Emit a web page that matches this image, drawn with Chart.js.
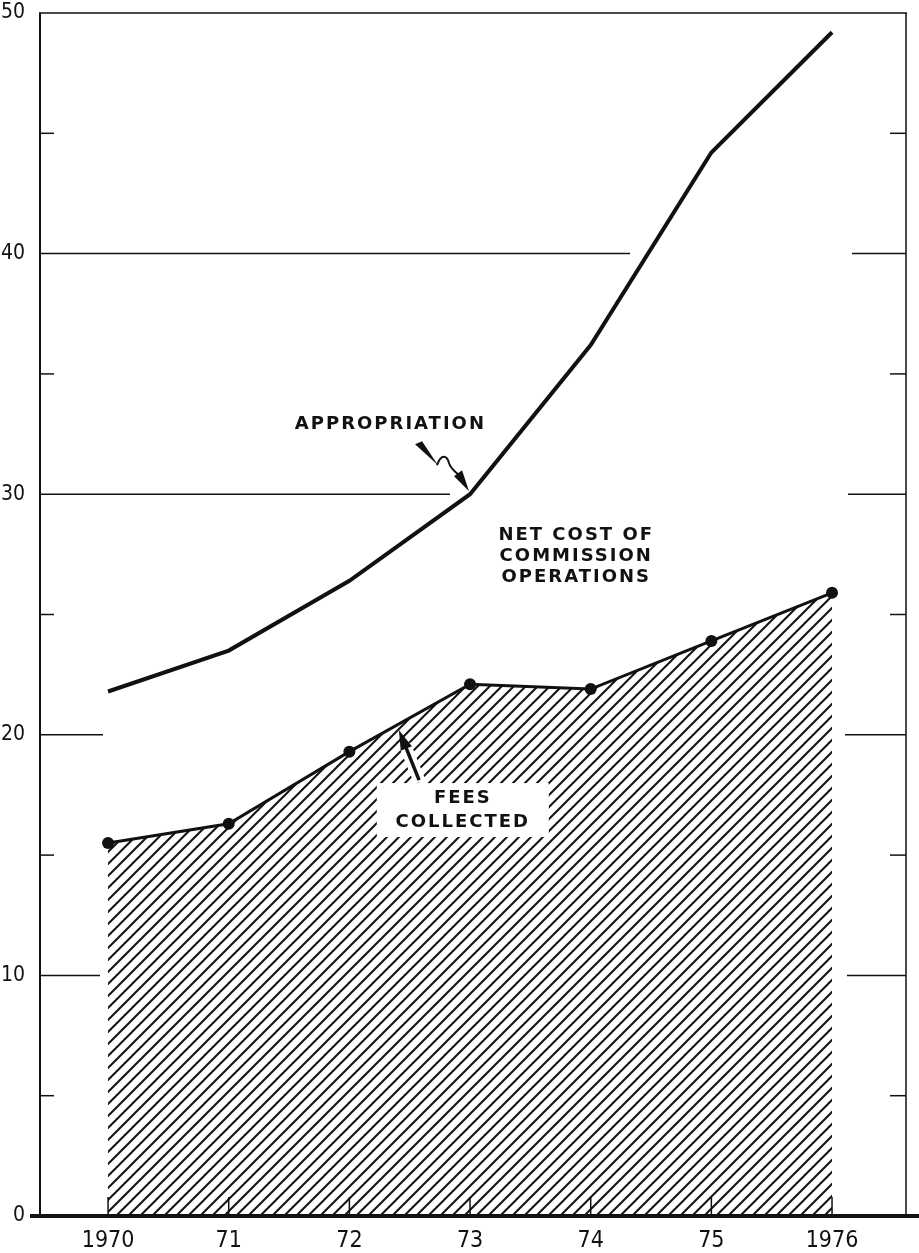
<!DOCTYPE html>
<html>
<head>
<meta charset="utf-8">
<script src="https://cdn.jsdelivr.net/npm/chart.js@4/dist/chart.umd.min.js"></script>
<style>
  html, body { margin: 0; padding: 0; background: #fff; }
</style>
</head>
<body>
<canvas id="chart" width="919" height="1253"></canvas>
<script>
// data (millions of dollars)
const years = [1970, 1971, 1972, 1973, 1974, 1975, 1976];
const yearLabels = ['1970', '71', '72', '73', '74', '75', '1976'];
const appropriation = [21.8, 23.5, 26.4, 30.0, 36.2, 44.2, 49.2];
const feesCollected = [15.5, 16.3, 19.3, 22.1, 21.9, 23.9, 25.9];
const yMajor = [10, 20, 30, 40, 50];
const yMinor = [5, 15, 25, 35, 45];

const INK = '#111';
const NARROW = '"DejaVu Sans Condensed", "Liberation Sans Narrow", sans-serif';
const LABEL_FONT = 'bold 18px "DejaVu Sans", sans-serif';

// diagonal hatch for the fees area
function hatchPattern() {
    const p = document.createElement('canvas');
    p.width = 12;
    p.height = 12;
    const g = p.getContext('2d');
    g.strokeStyle = INK;
    g.lineWidth = 2;
    g.beginPath();
    g.moveTo(-3, 15); g.lineTo(15, -3);
    g.moveTo(-3, 3); g.lineTo(3, -3);
    g.moveTo(9, 15); g.lineTo(15, 9);
    g.stroke();
    return g.createPattern(p, 'repeat');
}

function line(ctx, x1, y1, x2, y2, w) {
    ctx.lineWidth = w;
    ctx.beginPath();
    ctx.moveTo(x1, y1);
    ctx.lineTo(x2, y2);
    ctx.stroke();
}

// frame, partial grid lines and tick marks
const framePlugin = {
    id: 'frame',
    beforeDatasetsDraw(chart) {
        const { ctx, chartArea: a, scales } = chart;
        const y = scales.y, x = scales.x;
        ctx.save();
        ctx.strokeStyle = INK;
        ctx.lineCap = 'butt';
        // left / top / right border
        line(ctx, a.left, a.top, a.left, a.bottom, 2);
        line(ctx, a.left - 1, a.top, a.right + 1, a.top, 1.5);
        line(ctx, a.right, a.top, a.right, a.bottom, 1.5);
        // left ends of grid lines (interrupted by the graph)
        const leftLen = { 10: 60, 20: 63, 30: 410, 40: 590 };
        const rightLen = { 10: 59, 20: 61, 30: 58, 40: 54 };
        yMajor.forEach(v => {
            const py = y.getPixelForValue(v);
            if (leftLen[v]) line(ctx, a.left, py, a.left + leftLen[v], py, 1.5);
            if (rightLen[v]) line(ctx, a.right - rightLen[v], py, a.right, py, 1.5);
        });
        yMinor.forEach(v => {
            const py = y.getPixelForValue(v);
            line(ctx, a.left, py, a.left + 14, py, 1.5);
            line(ctx, a.right - 16, py, a.right, py, 1.5);
        });
        // year ticks
        years.forEach(v => {
            const px = x.getPixelForValue(v);
            line(ctx, px, a.bottom - 19, px, a.bottom, 1.5);
        });
        ctx.restore();
    },
    afterDatasetsDraw(chart) {
        const { ctx, chartArea: a } = chart;
        ctx.save();
        ctx.strokeStyle = INK;
        // heavy baseline running past the frame
        line(ctx, a.left - 10, a.bottom, 919, a.bottom, 4);
        ctx.restore();
    }
};

// text labels and arrows
const notesPlugin = {
    id: 'notes',
    afterDatasetsDraw(chart) {
        const { ctx, scales } = chart;
        const X = v => scales.x.getPixelForValue(v);
        const Y = v => scales.y.getPixelForValue(v);
        ctx.save();
        ctx.fillStyle = INK;
        ctx.strokeStyle = INK;
        ctx.font = LABEL_FONT;
        ctx.letterSpacing = '2px';
        ctx.textAlign = 'center';
        ctx.textBaseline = 'middle';

        ctx.fillText('APPROPRIATION', X(1972.34), Y(32.9));

        ctx.fillText('NET COST OF', X(1973.88), Y(28.3));
        ctx.fillText('COMMISSION', X(1973.88), Y(27.43));
        ctx.fillText('OPERATIONS', X(1973.88), Y(26.56));

        // squiggle arrow to the appropriation line
        const tx = X(1973) - 1, ty = Y(30) - 3;
        ctx.beginPath();
        ctx.moveTo(tx - 54, ty - 47);
        ctx.lineTo(tx - 47, ty - 50);
        ctx.lineTo(tx - 31, ty - 26);
        ctx.closePath();
        ctx.fill();
        ctx.lineWidth = 2;
        ctx.beginPath();
        ctx.moveTo(tx - 32, ty - 26);
        ctx.bezierCurveTo(tx - 28, ty - 38, tx - 22, ty - 36, tx - 20, ty - 28);
        ctx.bezierCurveTo(tx - 18, ty - 22, tx - 14, ty - 20, tx - 10, ty - 16);
        ctx.stroke();
        ctx.beginPath();
        ctx.moveTo(tx, ty);
        ctx.lineTo(tx - 15, ty - 15);
        ctx.lineTo(tx - 7, ty - 21);
        ctx.closePath();
        ctx.fill();

        // white patch for the fees label
        const fx = X(1972.94);
        const fy1 = Y(17.37), fy2 = Y(16.38);
        ctx.fillStyle = '#fff';
        ctx.fillRect(fx - 86, fy1 - 15, 172, 54);

        // arrow to the fees line
        const hx = X(1972.41), hy = Y(20.2);
        const bx = hx + 21, by = hy + 52;
        const len = Math.hypot(bx - hx, by - hy);
        const ux = (bx - hx) / len, uy = (by - hy) / len;
        ctx.strokeStyle = '#fff';
        line(ctx, hx + ux * 16, hy + uy * 16, bx, by, 12);
        ctx.strokeStyle = INK;
        line(ctx, hx + ux * 14, hy + uy * 14, bx - ux * 2, by - uy * 2, 3.5);
        ctx.fillStyle = INK;
        ctx.beginPath();
        ctx.moveTo(hx, hy);
        ctx.lineTo(hx + ux * 20 - uy * 6, hy + uy * 20 + ux * 6);
        ctx.lineTo(hx + ux * 20 + uy * 6, hy + uy * 20 - ux * 6);
        ctx.closePath();
        ctx.fill();

        ctx.fillText('FEES', fx, fy1);
        ctx.fillText('COLLECTED', fx, fy2);
        ctx.restore();
    }
};

new Chart(document.getElementById('chart'), {
    type: 'line',
    data: {
        datasets: [
            {
                label: 'Appropriation',
                data: years.map((yr, i) => ({ x: yr, y: appropriation[i] })),
                borderColor: INK,
                borderWidth: 4,
                pointRadius: 0,
                tension: 0,
                fill: false
            },
            {
                label: 'Fees collected',
                data: years.map((yr, i) => ({ x: yr, y: feesCollected[i] })),
                borderColor: INK,
                borderWidth: 3,
                pointRadius: 6,
                pointBackgroundColor: INK,
                pointBorderWidth: 0,
                tension: 0,
                fill: 'origin',
                backgroundColor: hatchPattern()
            }
        ]
    },
    options: {
        responsive: false,
        devicePixelRatio: 1,
        animation: false,
        layout: { padding: { top: 13, right: 13, left: 0, bottom: 0 } },
        plugins: {
            legend: { display: false },
            tooltip: { enabled: false }
        },
        scales: {
            x: {
                type: 'linear',
                min: 1969.436,
                max: 1976.613,
                grid: { display: false, drawTicks: false },
                border: { display: false },
                afterBuildTicks: s => { s.ticks = years.map(v => ({ value: v })); },
                afterFit: s => { s.height = 37; s.paddingLeft = 0; s.paddingRight = 0; },
                ticks: {
                    padding: 11,
                    color: INK,
                    font: { family: NARROW, size: 23 },
                    maxRotation: 0,
                    autoSkip: false,
                    callback: v => yearLabels[years.indexOf(v)]
                }
            },
            y: {
                min: 0,
                max: 50,
                grid: { display: false, drawTicks: false },
                border: { display: false },
                afterFit: s => { s.width = 40; s.paddingTop = 0; s.paddingBottom = 0; },
                ticks: {
                    stepSize: 10,
                    padding: 15,
                    color: INK,
                    font: { family: NARROW, size: 21 }
                }
            }
        }
    },
    plugins: [framePlugin, notesPlugin]
});
</script>
</body>
</html>
